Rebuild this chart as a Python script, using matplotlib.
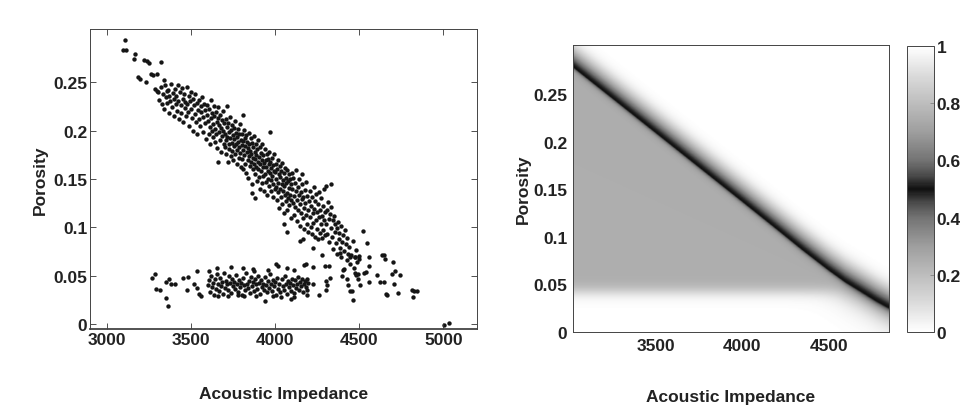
import matplotlib
matplotlib.use("Agg")
import matplotlib.pyplot as plt
import numpy as np
from matplotlib.colors import LinearSegmentedColormap

plt.rcParams["font.family"] = ["Liberation Sans", "DejaVu Sans"]
plt.rcParams["font.weight"] = "bold"
plt.rcParams["axes.labelweight"] = "bold"
plt.rcParams["font.size"] = 12.5

# ---- left panel: well-log samples (impedance, porosity) ----
tail_pts = [(3107,.294),(3097,.283),(3113,.283),(3167,.279),(3163,.274),(3220,.273),(3236,.272),
    (3250,.270),(3323,.271),(3186,.255),(3196,.253),(3230,.250),(3260,.258),(3276,.257),(3300,.258),
    (3286,.243),(3300,.241),(3341,.252),(3355,.241)]

band_pts = [
    (3305,.240),(3312,.232),(3320,.245),(3328,.228),(3335,.238),(3340,.222),(3346,.247),(3352,.235),
    (3358,.229),(3363,.242),(3368,.218),(3372,.236),(3378,.231),(3383,.248),(3388,.224),(3392,.239),
    (3397,.233),(3400,.215),(3404,.243),(3408,.228),(3412,.236),(3417,.220),(3421,.247),(3425,.231),
    (3430,.212),(3434,.240),(3438,.226),(3442,.218),(3446,.244),(3450,.233),(3455,.209),(3458,.238),
    (3462,.223),(3466,.230),(3470,.215),(3474,.245),(3478,.227),(3482,.219),(3486,.236),(3490,.205),
    (3494,.231),(3498,.240),(3502,.222),(3506,.213),(3510,.233),(3514,.200),(3518,.226),(3522,.238),
    (3526,.217),(3530,.209),(3534,.229),(3538,.196),(3542,.221),(3546,.232),(3550,.212),(3554,.205),
    (3558,.225),(3562,.219),(3566,.235),(3570,.199),(3574,.214),(3578,.228),(3582,.208),(3586,.221),
    (3590,.191),(3594,.216),(3598,.226),(3602,.210),(3605,.197),(3608,.222),(3611,.204),(3614,.186),
    (3617,.232),(3620,.213),(3623,.200),(3626,.218),(3629,.193),(3632,.207),(3635,.225),(3638,.215),
    (3641,.188),(3644,.202),(3647,.219),(3650,.196),(3653,.209),(3656,.182),(3659,.213),(3662,.224),
    (3665,.199),(3668,.206),(3671,.190),(3674,.216),(3677,.203),(3680,.178),(3683,.211),(3686,.194),
    (3689,.220),(3692,.200),(3695,.186),(3698,.208),(3660,.168),(3712,.225),(3810,.216),
    (3701,.197),(3703,.183),(3706,.212),(3708,.190),(3711,.176),(3713,.204),(3716,.193),(3718,.168),
    (3721,.208),(3723,.186),(3726,.199),(3728,.181),(3731,.214),(3733,.192),(3736,.174),(3738,.201),
    (3741,.187),(3743,.206),(3746,.179),(3748,.195),(3751,.170),(3753,.203),(3756,.184),(3758,.191),
    (3761,.210),(3763,.176),(3766,.198),(3768,.186),(3771,.165),(3773,.193),(3776,.180),(3778,.202),
    (3781,.188),(3783,.172),(3786,.196),(3788,.183),(3791,.207),(3793,.177),(3796,.190),(3798,.162),
    (3801,.185),(3803,.197),(3805,.171),(3808,.189),(3810,.160),(3812,.180),(3815,.201),(3817,.175),
    (3819,.192),(3822,.166),(3824,.184),(3826,.156),(3829,.195),(3831,.178),(3833,.188),(3836,.170),
    (3838,.182),(3840,.151),(3843,.198),(3845,.174),(3847,.186),(3850,.163),(3852,.179),(3854,.192),
    (3857,.168),(3859,.176),(3861,.145),(3864,.187),(3866,.172),(3868,.160),(3871,.183),(3873,.194),
    (3875,.166),(3878,.178),(3880,.155),(3882,.171),(3885,.186),(3887,.162),(3889,.175),(3892,.148),
    (3894,.181),(3896,.168),(3899,.190),(3860,.136),(3880,.130),(3970,.199),
    (3901,.160),(3903,.173),(3906,.152),(3908,.183),(3910,.165),(3913,.140),(3915,.177),(3917,.158),
    (3920,.170),(3922,.146),(3924,.186),(3927,.162),(3929,.153),(3931,.175),(3934,.138),(3936,.167),
    (3938,.181),(3941,.155),(3943,.170),(3945,.147),(3948,.162),(3950,.176),(3952,.133),(3955,.158),
    (3957,.171),(3959,.150),(3962,.165),(3964,.143),(3966,.178),(3969,.156),(3971,.168),(3973,.138),
    (3976,.161),(3978,.149),(3980,.172),(3983,.153),(3985,.131),(3987,.164),(3990,.145),(3992,.158),
    (3994,.176),(3997,.140),
    (4001,.157),(4003,.142),(4006,.166),(4008,.150),(4010,.128),(4013,.160),(4015,.137),(4017,.170),
    (4020,.146),(4022,.155),(4024,.120),(4027,.163),(4029,.140),(4031,.152),(4034,.131),(4036,.158),
    (4038,.145),(4041,.167),(4043,.124),(4045,.149),(4048,.138),(4050,.156),(4052,.115),(4055,.143),
    (4057,.161),(4059,.133),(4062,.151),(4064,.127),(4066,.146),(4069,.159),(4071,.136),(4073,.118),
    (4076,.148),(4078,.130),(4080,.155),(4083,.141),(4085,.123),(4087,.150),(4090,.133),(4092,.110),
    (4094,.145),(4097,.128),(4099,.156),(4069,.095),(4050,.104),
    (4102,.140),(4105,.125),(4108,.151),(4111,.132),(4114,.113),(4117,.146),(4120,.121),(4123,.138),
    (4126,.159),(4129,.128),(4132,.107),(4135,.142),(4138,.118),(4141,.133),(4144,.150),(4147,.124),
    (4150,.101),(4153,.137),(4156,.115),(4159,.129),(4162,.145),(4165,.110),(4168,.131),(4171,.120),
    (4174,.098),(4177,.139),(4180,.125),(4183,.113),(4186,.147),(4189,.104),(4192,.132),(4195,.118),
    (4198,.095),(4149,.086),(4165,.088),(4160,.155),
    (4202,.127),(4205,.111),(4208,.138),(4211,.100),(4214,.122),(4217,.093),(4220,.131),(4223,.115),
    (4226,.105),(4229,.142),(4232,.119),(4235,.090),(4238,.127),(4241,.108),(4244,.134),(4247,.098),
    (4250,.116),(4253,.088),(4256,.124),(4259,.111),(4262,.137),(4265,.094),(4268,.118),(4271,.103),
    (4274,.130),(4277,.089),(4280,.112),(4283,.122),(4286,.097),(4289,.140),(4292,.108),(4295,.116),
    (4298,.092),(4228,.079),(4278,.071),(4300,.143),(4333,.145),
    (4302,.104),(4306,.118),(4310,.093),(4314,.126),(4318,.109),(4322,.085),(4326,.114),(4330,.099),
    (4334,.121),(4338,.090),(4342,.108),(4346,.078),(4350,.112),(4354,.095),(4358,.103),(4362,.084),
    (4366,.099),(4370,.072),(4374,.106),(4378,.088),(4382,.094),(4386,.079),(4390,.101),(4394,.069),
    (4398,.085),(4405,.092),(4410,.076),(4415,.097),(4420,.083),(4425,.066),(4430,.089),(4436,.073),
    (4442,.080),(4448,.062),(4454,.071),(4460,.086),(4466,.058),(4472,.069),(4478,.077),(4484,.064),
    (4490,.052),(4496,.070),(4387,.074),(4443,.069),(4477,.069),(4500,.067)]

sparse_pts = [(4520,.096),(4546,.084),(4556,.069),(4645,.071),(4654,.067),(4700,.064),(4714,.055),
    (4740,.051),(4704,.041),(4728,.032),(4665,.030),(4817,.028),(4823,.034),(4843,.034),(4646,.044),
    (4556,.044),(4503,.040),(4462,.025),(4446,.034),(4426,.047),(4407,.057),(4480,.051),(4526,.053),
    (4556,.060),(4403,.056),(4397,.050),(4431,.040),(4457,.034),(4474,.053),(4494,.047),(4543,.054),
    (4603,.051),(4623,.044),(4637,.071),(4659,.031),(4693,.052),(4812,.035),(5002,-.001),(5036,.001)]

low_pts = [(3270,.048),(3287,.052),(3293,.036),(3318,.035),(3352,.044),(3372,.047),(3382,.042),
    (3406,.041),(3354,.027),(3364,.019),(3451,.048),(3485,.049),(3475,.035),(3537,.055),(3517,.041),
    (3537,.037),(3547,.031),(3560,.029),(3609,.055),(3655,.058),(3738,.059),(3808,.058),(3867,.057),
    (3873,.055),(3956,.056),(4006,.062),(4020,.060),(4071,.058),(4115,.056),(4171,.061),(3659,.029),
    (3719,.029),(3778,.030),(3818,.029),(3887,.029),(3937,.024),(3986,.029),(4036,.028),(4095,.026),
    (4115,.028),(4188,.047),(4198,.043),(4188,.035),(4192,.030),(4228,.042),(4258,.030),(4298,.060),
    (4323,.060),(4303,.045),(4307,.040),(4303,.035),(4327,.048),(4224,.059),(4183,.062),
    (3600,.040),(3606,.046),(3612,.033),(3618,.050),(3624,.038),(3630,.043),(3636,.030),(3642,.047),
    (3648,.036),(3654,.052),(3660,.041),(3666,.034),(3672,.048),(3678,.039),(3684,.044),(3690,.031),
    (3696,.053),(3702,.037),(3708,.045),(3714,.041),(3720,.035),(3726,.050),(3732,.043),(3738,.032),
    (3744,.047),(3750,.039),(3756,.044),(3762,.036),(3768,.051),(3774,.041),(3780,.033),(3786,.046),
    (3792,.038),(3798,.043),(3804,.030),(3810,.048),(3816,.040),(3822,.035),(3828,.053),(3834,.042),
    (3840,.037),(3846,.045),(3852,.032),(3858,.049),(3864,.039),(3870,.044),(3876,.034),(3882,.047),
    (3888,.041),(3894,.036),(3900,.050),(3906,.043),(3912,.031),(3918,.046),(3924,.038),(3930,.042),
    (3936,.035),(3942,.049),(3948,.040),(3954,.033),(3960,.045),(3966,.037),(3972,.052),(3978,.041),
    (3984,.034),(3990,.046),(3996,.039),(4002,.044),(4008,.030),(4014,.048),(4020,.036),(4026,.042),
    (4032,.033),(4038,.047),(4044,.039),(4050,.035),(4056,.050),(4062,.041),(4068,.031),(4074,.045),
    (4080,.038),(4086,.043),(4092,.034),(4098,.047),(4104,.040),(4110,.032),(4116,.046),(4122,.037),
    (4128,.042),(4134,.049),(4140,.035),(4146,.044),(4152,.039),(4158,.047),(4164,.033),(4170,.042),
    (4176,.045),(4182,.038)]

# ---- right panel: probability map, ridge (p = 0.5) ----
ridge_imp = [3020, 3250, 3500, 3750, 4000, 4200, 4350, 4500, 4600, 4700, 4780, 4850]
ridge_por = [0.278, 0.245, 0.209, 0.173, 0.137, 0.108, 0.086, 0.065, 0.052, 0.041, 0.032, 0.025]
band_level = 0.25      # probability in the grey wedge below the ridge
floor_por = 0.042      # porosity where the grey wedge fades to white

cmap_pos = [0, 0.1, 0.2, 0.3, 0.4, 0.45, 0.5, 0.55, 0.6, 0.7, 0.8, 0.9, 1.0]
cmap_grey = [1.0, 0.86, 0.74, 0.62, 0.45, 0.30, 0.06, 0.30, 0.45, 0.62, 0.74, 0.86, 1.0]
cmap = LinearSegmentedColormap.from_list("vgrey", [(p, (g, g, g)) for p, g in zip(cmap_pos, cmap_grey)])

fig = plt.figure(figsize=(9.66, 4.06), dpi=100)
fig.patch.set_facecolor("white")

ax1 = fig.add_axes([0.0932, 0.1872, 0.4006, 0.7389])
pts = np.array(tail_pts + band_pts + sparse_pts + low_pts)
ax1.scatter(pts[:, 0], pts[:, 1], s=10, c="#151515", marker="o", linewidths=0)
ax1.set_xlim(2900, 5200)
ax1.set_ylim(-0.005, 0.305)
ax1.set_xticks([3000, 3500, 4000, 4500, 5000])
ax1.set_yticks([0, 0.05, 0.1, 0.15, 0.2, 0.25])
ax1.set_yticklabels(["0", "0.05", "0.1", "0.15", "0.2", "0.25"])
ax1.tick_params(direction="in", top=True, right=True, length=4, width=0.6, pad=2,
                colors="#333333", labelcolor="#222222")
for s in ax1.spines.values():
    s.set_color("#444444"); s.set_linewidth(0.7)
ax1.spines["bottom"].set_linewidth(1.3)
ax1.set_xlabel("Acoustic Impedance", labelpad=28, color="#222222")
ax1.set_ylabel("Porosity", labelpad=4, color="#222222")

# probability surface
gx = np.linspace(3020, 4850, 460)
gy = np.linspace(0, 0.302, 380)
X, Y = np.meshgrid(gx, gy)
d = Y - np.interp(X, ridge_imp, ridge_por)
floor = band_level / (1 + np.exp(-(Y - floor_por) / 0.004))
w_dn = 0.003 + 0.008 * (1 - floor / band_level)
above = 1 - 0.5 * np.exp(-(np.clip(d, 0, None) / 0.019) ** 2)
below = floor + (0.5 - floor) * np.exp(np.clip(d, None, 0) / w_dn)
prob = np.where(d >= 0, above, below)

ax2 = fig.add_axes([0.5932, 0.1798, 0.3271, 0.7069])
im = ax2.imshow(prob, extent=[3020, 4850, 0, 0.302], origin="lower", aspect="auto",
                cmap=cmap, vmin=0, vmax=1, interpolation="bilinear")
ax2.set_xlim(3020, 4850)
ax2.set_ylim(0, 0.302)
ax2.set_xticks([3500, 4000, 4500])
ax2.set_yticks([0, 0.05, 0.1, 0.15, 0.2, 0.25])
ax2.set_yticklabels(["0", "0.05", "0.1", "0.15", "0.2", "0.25"])
ax2.tick_params(length=0, pad=4, labelcolor="#222222")
for s in ax2.spines.values():
    s.set_color("#444444"); s.set_linewidth(0.7)
ax2.set_xlabel("Acoustic Impedance", labelpad=26.5, color="#222222")
ax2.set_ylabel("Porosity", labelpad=2, color="#222222")

cax = fig.add_axes([0.9389, 0.1798, 0.0280, 0.7044])
cb = fig.colorbar(im, cax=cax)
cb.set_ticks([0, 0.2, 0.4, 0.6, 0.8, 1])
cb.set_ticklabels(["0", "0.2", "0.4", "0.6", "0.8", "1"])
cax.tick_params(direction="in", length=3, width=0.5, pad=2, colors="#777777", labelcolor="#222222")
cb.outline.set_edgecolor("#444444"); cb.outline.set_linewidth(0.7)

fig.savefig("out.png", dpi=100, facecolor="white")
